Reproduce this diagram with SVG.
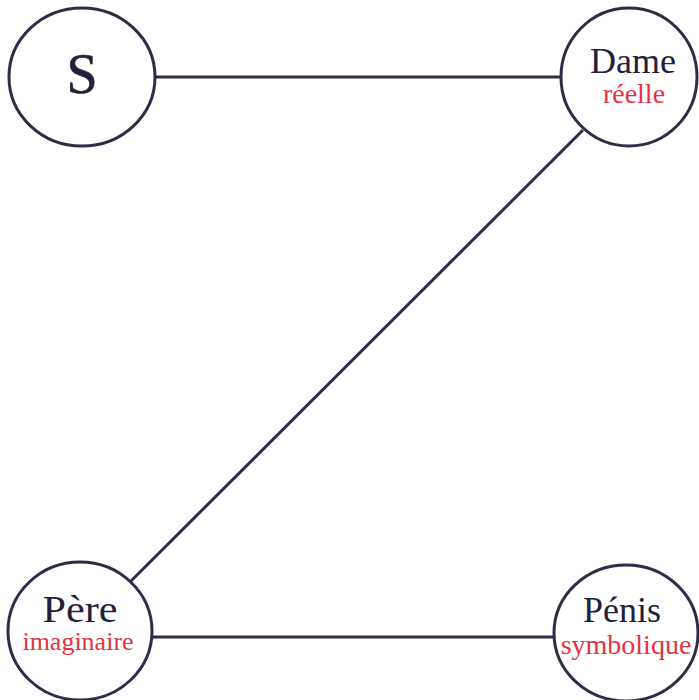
<svg xmlns="http://www.w3.org/2000/svg" width="699" height="700" viewBox="0 0 699 700">
<style>
.n{fill:#fff;stroke:#2e2d48;stroke-width:3}
.c{stroke:#2e2d48;stroke-width:3;fill:none}
.t{font-family:"Liberation Serif","Times New Roman",serif;fill:#22213b;text-anchor:middle}
.r{font-family:"Liberation Serif","Times New Roman",serif;fill:#e3343f;text-anchor:middle}
</style>
<rect width="699" height="700" fill="#fff"/>
<g id="connectors">
<line class="c" x1="155" y1="77" x2="561" y2="77"/>
<line class="c" x1="583" y1="130" x2="130" y2="582"/>
<line class="c" x1="152" y1="637" x2="554" y2="637"/>
</g>
<g id="node-s">
<ellipse class="n" cx="82" cy="77" rx="73" ry="69"/>
<text class="t" x="82" y="93" font-size="56" stroke="#22213b" stroke-width="0.6">S</text>
</g>
<g id="node-dame">
<ellipse class="n" cx="629" cy="77" rx="68" ry="69"/>
<text class="t" x="633" y="73" font-size="36">Dame</text>
<text class="r" x="634" y="103" font-size="28">réelle</text>
</g>
<g id="node-pere">
<ellipse class="n" cx="80" cy="631" rx="72" ry="69"/>
<text class="t" x="80" y="622" font-size="38" textLength="75" lengthAdjust="spacingAndGlyphs">Père</text>
<text class="r" x="78" y="650" font-size="26">imaginaire</text>
</g>
<g id="node-penis">
<ellipse class="n" cx="626" cy="633" rx="72" ry="68"/>
<text class="t" x="622" y="622" font-size="36">Pénis</text>
<text class="r" x="626" y="654" font-size="28">symbolique</text>
</g>
</svg>
